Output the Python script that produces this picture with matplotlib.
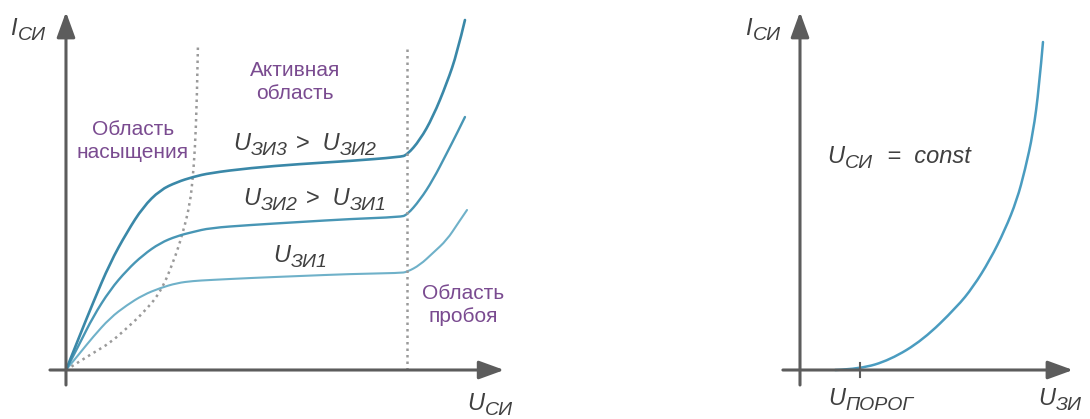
import matplotlib
matplotlib.use("Agg")
import matplotlib.pyplot as plt
import numpy as np
from matplotlib.path import Path
from matplotlib.patches import PathPatch

plt.rcParams["font.family"] = ["Liberation Sans", "DejaVu Sans"]

# output characteristics: drain current vs drain-source voltage
u_si = [0, 0.41, 0.79, 1.29, 1.79, 2.26, 2.76, 3.26, 3.72, 4.22, 5.40, 6.86, 8.33,
        9.79, 10.0, 10.38, 10.76, 11.17, 11.47, 11.70]
i_top = [0, 1.75, 3.35, 5.35, 6.9, 8.15, 9.0, 9.4, 9.65, 9.85, 10.1, 10.3, 10.45,
         10.65, 10.75, 11.5, 12.65, 14.35, 15.85, 17.5]
i_mid = [0, 1.35, 2.65, 4.0, 5.0, 5.75, 6.35, 6.7, 6.9, 7.1, 7.25, 7.4, 7.55,
         7.65, 7.75, 8.5, 9.5, 10.85, 11.85, 12.65]
u_low = [0, 0.41, 0.79, 1.29, 1.79, 2.26, 2.76, 3.26, 3.72, 4.22, 5.40, 6.86, 8.33,
         9.79, 10.0, 10.38, 10.76, 11.17, 11.5, 11.76]
i_low = [0, 0.85, 1.65, 2.6, 3.25, 3.75, 4.1, 4.35, 4.45, 4.5, 4.6, 4.7, 4.8,
         4.85, 4.9, 5.25, 5.85, 6.5, 7.35, 8.0]

# boundary of the saturation region
u_sat = [0, 0.79, 1.29, 1.79, 2.26, 2.76, 3.14, 3.43, 3.64, 3.72, 3.78, 3.84, 3.87]
i_sat = [0, 0.85, 1.35, 2.1, 2.85, 3.85, 5.35, 6.85, 8.35, 9.65, 11.0, 13.5, 16.25]
u_breakdown = 10.0
i_dotted_top = 16.25

# transfer characteristic: drain current vs gate-source voltage
u_zi = [1.17, 2.0, 3.0, 4.1, 5.23, 5.77, 6.33, 6.83, 7.23, 7.5, 7.77, 7.97, 8.1]
i_zi = [0, 0.05, 0.5, 1.5, 3.15, 4.15, 5.5, 7.0, 8.5, 10.0, 11.85, 14.15, 16.4]
u_threshold = 2.0

axis_color = "#5c5c5c"
text_color = "#404040"
region_color = "#7a4b90"
dot_color = "#9a9a9a"
dotted = (0, (1, 1.6))


def smooth(ax, x, y, **kw):
    """quadratic bezier through the midpoints, read points act as controls"""
    pts = np.column_stack([x, y])
    verts = [pts[0]]
    codes = [Path.MOVETO]
    for i in range(1, len(pts) - 1):
        end = (pts[i] + pts[i + 1]) / 2 if i < len(pts) - 2 else pts[i + 1]
        verts += [pts[i], end]
        codes += [Path.CURVE3, Path.CURVE3]
    ax.add_patch(PathPatch(Path(verts, codes), fill=False, **kw))


def draw_axes(ax, x0, x1, y0, y1):
    style = dict(arrowstyle="-|>,head_length=0.55,head_width=0.2", lw=2.2,
                 color=axis_color, shrinkA=0, shrinkB=0, mutation_scale=28)
    ax.annotate("", xy=(x1, 0), xytext=(x0, 0), arrowprops=style)
    ax.annotate("", xy=(0, y1), xytext=(0, y0), arrowprops=style)


def formula(ax, x, y, parts, size=17, sub_size=14, drop=3.4):
    """italic label built from (text, is_subscript) pieces, left edge at x, baseline at y"""
    prev = None
    for text, sub in parts:
        kw = dict(fontsize=sub_size if sub else size, fontstyle="italic",
                  color=text_color, ha="left", va="baseline")
        dy = -drop if sub else 0
        if prev is None:
            prev = ax.annotate(text, xy=(x, y), xycoords="data", xytext=(0, dy),
                               textcoords="offset points", **kw)
        else:
            prev = ax.annotate(text, xy=(1, y), xycoords=(prev, "data"),
                               xytext=(0.6, dy), textcoords="offset points", **kw)


fig = plt.figure(figsize=(10.9, 4.19), dpi=100)

# left panel
ax = fig.add_axes([0, 0, 0.5, 1])
ax.set_xlim(-1.935, 14.047)
ax.set_ylim(-2.45, 18.5)
ax.axis("off")

draw_axes(ax, -0.47, 12.85, -0.75, 17.9)
smooth(ax, u_sat, i_sat, color=dot_color, lw=1.8, ls=dotted)
ax.plot([u_breakdown, u_breakdown], [0, i_dotted_top], color=dot_color, lw=1.8, ls=dotted)
smooth(ax, u_low, i_low, color="#6fb1c9", lw=1.5, capstyle="round")
smooth(ax, u_si, i_mid, color="#4896b5", lw=1.7, capstyle="round")
smooth(ax, u_si, i_top, color="#3a88a8", lw=1.9, capstyle="round")

formula(ax, -1.64, 16.75, [("I", 0), ("СИ", 1)])
formula(ax, 11.76, -2.0, [("U", 0), ("СИ", 1)])
formula(ax, 4.9, 11.0, [("U", 0), ("ЗИ3", 1), (" >  U", 0), ("ЗИ2", 1)])
formula(ax, 5.19, 8.25, [("U", 0), ("ЗИ2", 1), (" >  U", 0), ("ЗИ1", 1)])
formula(ax, 6.07, 5.4, [("U", 0), ("ЗИ1", 1)])

reg = dict(color=region_color, fontsize=15, ha="center", va="center", linespacing=1.3)
ax.text(6.72, 14.4, "Активная\nобласть", **reg)
ax.text(1.96, 11.45, "Область\nнасыщения", **reg)
ax.text(11.64, 3.25, "Область\nпробоя", **reg)

# right panel
ax2 = fig.add_axes([0.5, 0, 0.5, 1])
ax2.set_xlim(-8.5, 9.667)
ax2.set_ylim(-2.45, 18.5)
ax2.axis("off")

draw_axes(ax2, -0.57, 9.1, -0.75, 17.9)
ax2.plot([u_threshold, u_threshold], [-0.35, 0.35], color=axis_color, lw=1.5)
smooth(ax2, u_zi, i_zi, color="#4a9cc0", lw=1.8, capstyle="round")

formula(ax2, -1.83, 16.75, [("I", 0), ("СИ", 1)])
formula(ax2, 7.93, -1.75, [("U", 0), ("ЗИ", 1)])
formula(ax2, 0.93, -1.75, [("U", 0), ("ПОРОГ", 1)])
formula(ax2, 0.9, 10.35, [("U", 0), ("СИ", 1), ("  =  const", 0)])

fig.savefig("out.png", dpi=100)
